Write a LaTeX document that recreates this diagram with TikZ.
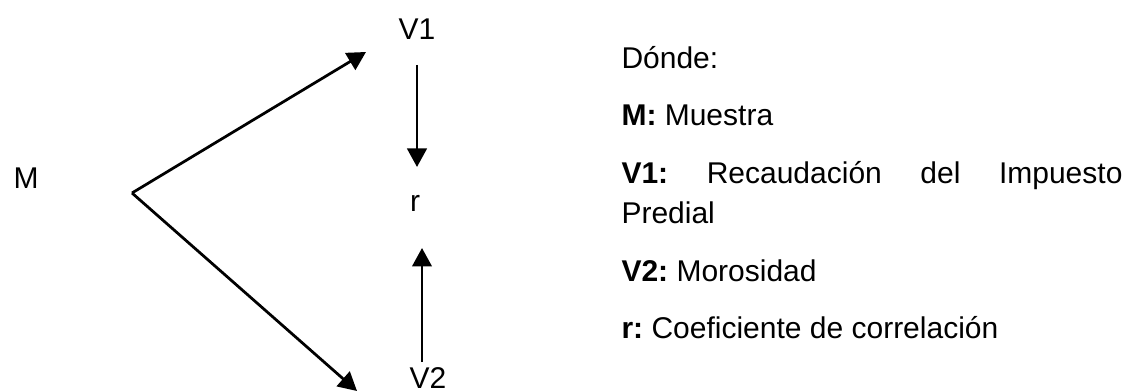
\documentclass[tikz,border=0pt]{standalone}
\usepackage{fontspec}
\setmainfont{Liberation Sans}
\usetikzlibrary{arrows.meta,positioning}

\hyphenpenalty=10000
\tolerance=10000
\frenchspacing

\tikzset{
  flecha/.style={line width=1.1pt,-{Triangle[length=7.4pt,width=7.8pt]}},
  etiqueta/.style={font=\fontsize{12}{16}\selectfont,inner sep=0pt,anchor=base},
  leyenda/.style={font=\fontsize{12}{16}\selectfont,inner sep=0pt,anchor=base west,
    text width=200.4pt,align=justify}
}

\begin{document}
\begin{tikzpicture}[x=0.4pt,y=-0.4pt]
\useasboundingbox (0,0) rectangle (1126,392);

% diagrama
\node[etiqueta] (M) at (26,189) {M};
\node[etiqueta] (V1) at (417,40) {V1};
\node[etiqueta] (r) at (415,212) {r};
\node[etiqueta] (V2) at (428,389) {V2};

\coordinate (O) at (132,193);
\coordinate (V1in) at (366,52);
\coordinate (V2in) at (357,391);
\coordinate (V1out) at (417,65);
\coordinate (rtop) at (417,167);
\coordinate (V2out) at (422,362);
\coordinate (rbot) at (422,248);

\draw[flecha] (O) -- (V1in);
\draw[flecha] (O) -- (V2in);
\draw[flecha] (V1out) -- (rtop);
\draw[flecha] (V2out) -- (rbot);

% leyenda
\node[leyenda] (donde) at (621,69) {Dónde:};
\node[leyenda] (legM) at (621,126) {\textbf{M:} Muestra};
\node[leyenda] (legV1) at (621,184) {\textbf{V1:} Recaudación del Impuesto\linebreak Predial};
\node[leyenda] (legV2) at (621,282) {\textbf{V2:} Morosidad};
\node[leyenda] (legr) at (621,339) {\textbf{r:} Coeficiente de correlación};

\end{tikzpicture}
\end{document}
